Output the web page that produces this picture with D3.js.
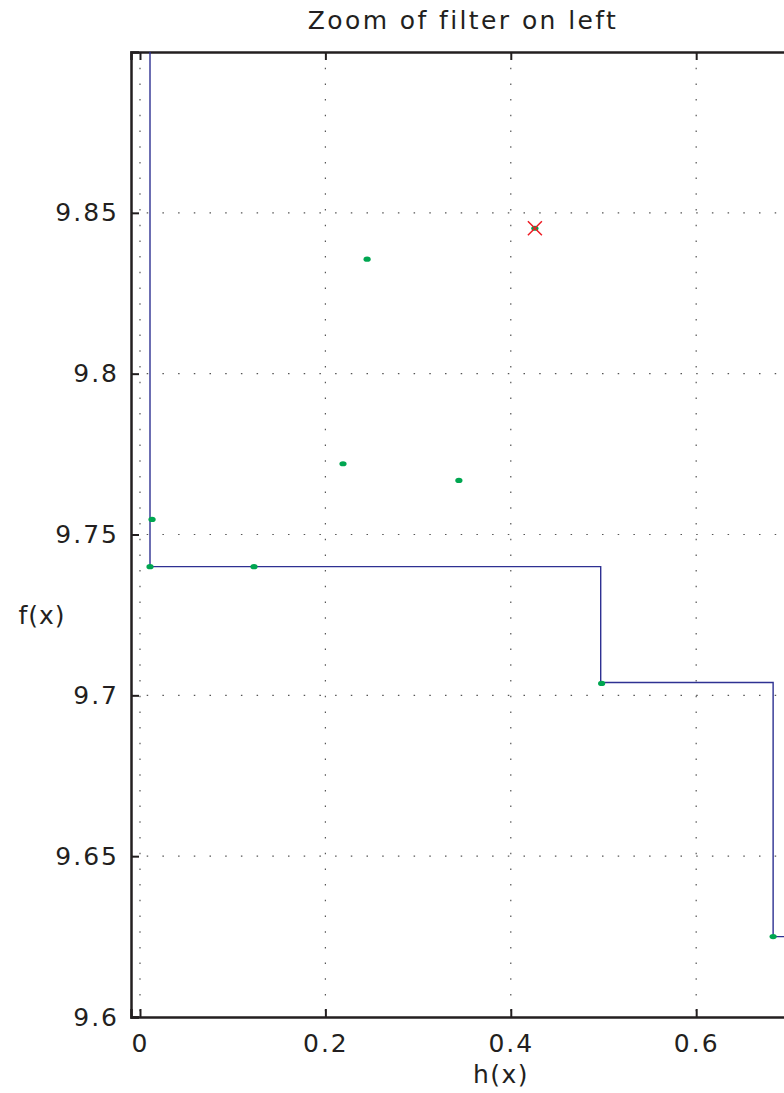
<!DOCTYPE html>
<html>
<head>
<meta charset="utf-8">
<script src="https://cdn.jsdelivr.net/npm/d3@7"></script>
<style>
  body { margin: 0; background: #fff; }
  text { font-family: "DejaVu Sans", sans-serif; fill: #231f20; }
</style>
</head>
<body>
<script>
// step line of the filter (h, f)
var stepH = [0.0108, 0.0108, 0.497, 0.497, 0.683, 0.683, 0.75];
var stepF = [9.95, 9.74, 9.74, 9.704, 9.704, 9.625, 9.625];
// evaluated points
var ptH = [0.0108, 0.013, 0.123, 0.219, 0.245, 0.344, 0.426, 0.498, 0.683];
var ptF = [9.74, 9.7547, 9.74, 9.772, 9.8356, 9.7668, 9.8452, 9.7037, 9.625];
// the chosen point
var bestH = [0.426];
var bestF = [9.8452];
var xTicks = [0, 0.2, 0.4, 0.6];
var yTicks = [9.6, 9.65, 9.7, 9.75, 9.8, 9.85];

var width = 784, height = 1093;
var margin = {left: 131, top: 52, right: -11, bottom: 76};
var w = width - margin.left - margin.right;
var h = height - margin.top - margin.bottom;

var svg = d3.select("body").append("svg").attr("width", width).attr("height", height);
var x = d3.scaleLinear().domain([-0.0097, 0.7066]).range([0, w]);
var y = d3.scaleLinear().domain([9.6, 9.9]).range([h, 0]);
var g = svg.append("g").attr("transform", "translate(" + margin.left + "," + margin.top + ")");

g.append("clipPath").attr("id", "clip").append("rect").attr("width", w).attr("height", h);

// dotted grid
g.selectAll(".gx").data(xTicks).enter().append("line")
  .attr("x1", function(d){return x(d)}).attr("x2", function(d){return x(d)})
  .attr("y1", 0).attr("y2", h)
  .attr("stroke", "#555").attr("stroke-width", 1.2).attr("stroke-dasharray", "1.5,14.2");
g.selectAll(".gy").data(yTicks.slice(1)).enter().append("line")
  .attr("y1", function(d){return y(d)}).attr("y2", function(d){return y(d)})
  .attr("x1", 0).attr("x2", w)
  .attr("stroke", "#555").attr("stroke-width", 1.2).attr("stroke-dasharray", "1.5,14.2");

// axes with inward ticks
var ax = g.append("g").attr("transform", "translate(0," + h + ")")
  .call(d3.axisBottom(x).tickValues(xTicks).tickSize(-8).tickPadding(17).tickFormat(d3.format("")));
var axTop = g.append("g").call(d3.axisTop(x).tickValues(xTicks).tickSize(-8).tickFormat(""));
var ay = g.append("g")
  .call(d3.axisLeft(y).tickValues(yTicks).tickSize(-8).tickPadding(12).tickFormat(d3.format("")));
var ayR = g.append("g").attr("transform", "translate(" + w + ",0)")
  .call(d3.axisRight(y).tickValues(yTicks).tickSize(-8).tickFormat(""));
[ax, axTop, ay, ayR].forEach(function(a){
  a.select(".domain").attr("stroke", "#231f20").attr("stroke-width", 2.5);
  a.selectAll(".tick line").attr("stroke", "#231f20").attr("stroke-width", 2);
  a.selectAll(".tick text").attr("font-size", 25).attr("fill", "#231f20")
    .attr("font-family", "DejaVu Sans").attr("letter-spacing", 2);
});

// step line
var stepData = stepH.map(function(d, i){return [d, stepF[i]]});
g.append("path").datum(stepData)
  .attr("clip-path", "url(#clip)")
  .attr("fill", "none").attr("stroke", "#2e3192").attr("stroke-width", 1.4)
  .attr("d", d3.line().x(function(d){return x(d[0])}).y(function(d){return y(d[1])}));

// points
g.selectAll(".pt").data(ptH).enter().append("ellipse")
  .attr("cx", function(d){return x(d)})
  .attr("cy", function(d, i){return y(ptF[i])})
  .attr("rx", 3.6).attr("ry", 2.6).attr("fill", "#00a651");

// best point cross
bestH.forEach(function(d, i){
  var cx = x(d), cy = y(bestF[i]), s = 7;
  g.append("path")
    .attr("d", "M" + (cx - s) + "," + (cy - s) + "L" + (cx + s) + "," + (cy + s) +
               "M" + (cx - s) + "," + (cy + s) + "L" + (cx + s) + "," + (cy - s))
    .attr("stroke", "#ed1c24").attr("stroke-width", 1.5);
});

// labels
svg.append("text").attr("x", 463).attr("y", 29).attr("text-anchor", "middle")
  .attr("font-size", 25).attr("letter-spacing", 2.4).text("Zoom of filter on left");
svg.append("text").attr("x", 501).attr("y", 1083).attr("text-anchor", "middle")
  .attr("font-size", 25).attr("letter-spacing", 1.5).text("h(x)");
svg.append("text").attr("x", 42).attr("y", 624).attr("text-anchor", "middle")
  .attr("font-size", 25).attr("letter-spacing", 1).text("f(x)");
</script>
</body>
</html>
